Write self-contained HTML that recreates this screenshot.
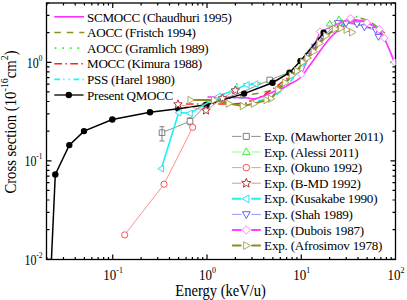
<!DOCTYPE html><html><head><meta charset="utf-8"><style>
html,body{margin:0;padding:0;background:#fff;width:407px;height:300px;overflow:hidden}
svg{display:block}
text{font-family:'Liberation Serif',serif;fill:#000;stroke:#000;stroke-width:0px}
</style></head><body>
<svg width="407" height="300" viewBox="0 0 407 300">
<defs><clipPath id="cp"><rect x="46.5" y="3.0" width="349.0" height="256.5"/></clipPath></defs>

<path d="M46.87 259.5v-2.5M46.87 3.0v2.5M63.47 259.5v-2.5M63.47 3.0v2.5M75.24 259.5v-2.5M75.24 3.0v2.5M84.38 259.5v-2.5M84.38 3.0v2.5M91.84 259.5v-2.5M91.84 3.0v2.5M98.15 259.5v-2.5M98.15 3.0v2.5M103.62 259.5v-2.5M103.62 3.0v2.5M108.44 259.5v-2.5M108.44 3.0v2.5M112.75 259.5v-5M112.75 3.0v5M141.12 259.5v-2.5M141.12 3.0v2.5M157.72 259.5v-2.5M157.72 3.0v2.5M169.49 259.5v-2.5M169.49 3.0v2.5M178.63 259.5v-2.5M178.63 3.0v2.5M186.09 259.5v-2.5M186.09 3.0v2.5M192.40 259.5v-2.5M192.40 3.0v2.5M197.87 259.5v-2.5M197.87 3.0v2.5M202.69 259.5v-2.5M202.69 3.0v2.5M207.00 259.5v-5M207.00 3.0v5M235.37 259.5v-2.5M235.37 3.0v2.5M251.97 259.5v-2.5M251.97 3.0v2.5M263.74 259.5v-2.5M263.74 3.0v2.5M272.88 259.5v-2.5M272.88 3.0v2.5M280.34 259.5v-2.5M280.34 3.0v2.5M286.65 259.5v-2.5M286.65 3.0v2.5M292.12 259.5v-2.5M292.12 3.0v2.5M296.94 259.5v-2.5M296.94 3.0v2.5M301.25 259.5v-5M301.25 3.0v5M329.62 259.5v-2.5M329.62 3.0v2.5M346.22 259.5v-2.5M346.22 3.0v2.5M357.99 259.5v-2.5M357.99 3.0v2.5M367.13 259.5v-2.5M367.13 3.0v2.5M374.59 259.5v-2.5M374.59 3.0v2.5M380.90 259.5v-2.5M380.90 3.0v2.5M386.37 259.5v-2.5M386.37 3.0v2.5M391.19 259.5v-2.5M391.19 3.0v2.5M46.5 259.30h5M395.5 259.30h-5M46.5 229.65h3M395.5 229.65h-3M46.5 212.30h3M395.5 212.30h-3M46.5 200.00h3M395.5 200.00h-3M46.5 190.45h3M395.5 190.45h-3M46.5 182.65h3M395.5 182.65h-3M46.5 176.06h3M395.5 176.06h-3M46.5 170.35h3M395.5 170.35h-3M46.5 165.31h3M395.5 165.31h-3M46.5 160.80h5M395.5 160.80h-5M46.5 131.15h3M395.5 131.15h-3M46.5 113.80h3M395.5 113.80h-3M46.5 101.50h3M395.5 101.50h-3M46.5 91.95h3M395.5 91.95h-3M46.5 84.15h3M395.5 84.15h-3M46.5 77.56h3M395.5 77.56h-3M46.5 71.85h3M395.5 71.85h-3M46.5 66.81h3M395.5 66.81h-3M46.5 62.30h5M395.5 62.30h-5M46.5 32.65h3M395.5 32.65h-3M46.5 15.30h3M395.5 15.30h-3M46.5 3.00h3M395.5 3.00h-3" stroke="#000" stroke-width="1.2" fill="none"/>
<rect x="46.5" y="3.0" width="349.0" height="256.5" stroke="#000" stroke-width="1.3" fill="none"/>
<text transform="translate(113.15 279.5) scale(1.0 1.1)" font-size="13" text-anchor="middle">10<tspan font-size="8" dy="-6">-1</tspan></text>
<text transform="translate(207.4 279.5) scale(1.0 1.1)" font-size="13" text-anchor="middle">10<tspan font-size="8" dy="-6">0</tspan></text>
<text transform="translate(301.65 279.5) scale(1.0 1.1)" font-size="13" text-anchor="middle">10<tspan font-size="8" dy="-6">1</tspan></text>
<text transform="translate(395.9 279.5) scale(1.0 1.1)" font-size="13" text-anchor="middle">10<tspan font-size="8" dy="-6">2</tspan></text>
<text transform="translate(42.5 67.8) scale(0.92 1.1)" font-size="13" text-anchor="end">10<tspan font-size="8" dy="-6.5">0</tspan></text>
<text transform="translate(42.5 166.3) scale(0.92 1.1)" font-size="13" text-anchor="end">10<tspan font-size="8" dy="-6.5">-1</tspan></text>
<text transform="translate(42.5 264.8) scale(0.92 1.1)" font-size="13" text-anchor="end">10<tspan font-size="8" dy="-6.5">-2</tspan></text>
<text transform="translate(175.3 295.7) scale(0.99 1.1)" font-size="14.7">Energy (keV/u)</text>
<text transform="translate(16.3 193.6) rotate(-90) scale(1 1.12)" font-size="14.7">Cross section (10<tspan font-size="10" dy="-7.5">-16</tspan><tspan dy="7.5">cm</tspan><tspan font-size="10" dy="-7.5">2</tspan><tspan dy="7.5">)</tspan></text>
<path d="M54.3 16.80H84" stroke="#ff30ff" stroke-width="1.6"/>
<text x="87.1" y="21.50" font-size="13.1" letter-spacing="-0.3">SCMOCC (Chaudhuri 1995)</text>
<path d="M54.3 32.44H84.4" stroke="#8c8c20" stroke-width="1.5" stroke-dasharray="6.5 6"/>
<text x="87.1" y="37.14" font-size="13.1" letter-spacing="-0.3">AOCC (Fristch 1994)</text>
<path d="M54.7 48.08H84" stroke="#30f030" stroke-width="1.7" stroke-dasharray="1.7 5.9"/>
<text x="87.1" y="52.78" font-size="13.1" letter-spacing="-0.3">AOCC (Gramlich 1989)</text>
<path d="M54.3 63.72H84" stroke="#ff2020" stroke-width="1.5" stroke-dasharray="7.7 3.3 1.5 3.5"/>
<text x="87.1" y="68.42" font-size="13.1" letter-spacing="-0.3">MOCC (Kimura 1988)</text>
<path d="M54.3 79.36H84" stroke="#00ffff" stroke-width="1.6" stroke-dasharray="5.7 3.3 1.2 4 1.2 3.8"/>
<text x="87.1" y="84.06" font-size="13.1" letter-spacing="-0.3">PSS (Harel 1980)</text>
<path d="M54.3 95.00H83.5" stroke="#202020" stroke-width="1.5"/><circle cx="68.8" cy="95.00" r="3.2" fill="#000"/>
<text x="87.1" y="99.70" font-size="13.1" letter-spacing="-0.3">Present QMOCC</text>
<g clip-path="url(#cp)" fill="none" stroke-linejoin="miter">
<path d="M215.00 100.00 C219.17 99.33 231.67 97.33 240.00 96.00 C248.33 94.67 258.33 93.67 265.00 92.00 C271.67 90.33 275.00 89.00 280.00 86.00 C285.00 83.00 290.00 79.00 295.00 74.00 C300.00 69.00 305.00 62.00 310.00 56.00 C315.00 50.00 320.00 43.00 325.00 38.00 C330.00 33.00 335.00 29.33 340.00 26.00 C345.00 22.67 350.00 18.67 355.00 18.00 C360.00 17.33 365.00 19.50 370.00 22.00 C375.00 24.50 382.50 31.17 385.00 33.00" stroke="#8c8c20" stroke-width="1.5" stroke-dasharray="6.5 6"/>
<path d="M236.00 84.20 C238.53 84.10 246.23 83.88 251.20 83.60 C256.17 83.32 261.90 83.03 265.80 82.50 C269.70 81.97 271.40 81.65 274.60 80.40 C277.80 79.15 280.77 78.07 285.00 75.00 C289.23 71.93 295.00 67.17 300.00 62.00 C305.00 56.83 310.00 49.67 315.00 44.00 C320.00 38.33 325.00 32.17 330.00 28.00 C335.00 23.83 340.33 20.83 345.00 19.00 C349.67 17.17 353.33 16.00 358.00 17.00 C362.67 18.00 368.50 22.33 373.00 25.00 C377.50 27.67 383.00 31.67 385.00 33.00" stroke="#30f030" stroke-width="1.7" stroke-dasharray="1.7 5.9"/>
<path d="M186.00 104.00 C195.00 103.93 229.33 104.10 240.00 103.60 C250.67 103.10 246.33 102.27 250.00 101.00 C253.67 99.73 258.67 97.67 262.00 96.00 C265.33 94.33 266.17 93.67 270.00 91.00 C273.83 88.33 280.83 83.17 285.00 80.00 C289.17 76.83 291.67 75.33 295.00 72.00 C298.33 68.67 300.83 65.00 305.00 60.00 C309.17 55.00 315.00 47.17 320.00 42.00 C325.00 36.83 330.83 32.17 335.00 29.00 C339.17 25.83 340.83 23.67 345.00 23.00 C349.17 22.33 355.00 23.83 360.00 25.00 C365.00 26.17 370.83 28.00 375.00 30.00 C379.17 32.00 383.33 35.83 385.00 37.00" stroke="#ff2020" stroke-width="1.5" stroke-dasharray="7.7 3.3 1.5 3.5"/>
<path d="M220.00 99.00 C224.17 98.83 238.00 97.83 245.00 98.00 C252.00 98.17 256.17 101.00 262.00 100.00 C267.83 99.00 273.67 97.00 280.00 92.00 C286.33 87.00 294.17 77.00 300.00 70.00 C305.83 63.00 310.00 56.17 315.00 50.00 C320.00 43.83 325.00 37.33 330.00 33.00 C335.00 28.67 340.00 26.00 345.00 24.00 C350.00 22.00 355.00 20.67 360.00 21.00 C365.00 21.33 370.83 23.83 375.00 26.00 C379.17 28.17 383.33 32.67 385.00 34.00" stroke="#00ffff" stroke-width="1.5" stroke-dasharray="5.7 3.3 1.2 4 1.2 3.8"/>
<path d="M207.50 97.00 C210.42 97.03 218.75 97.07 225.00 97.20 C231.25 97.33 240.00 97.53 245.00 97.80 C250.00 98.07 251.67 99.18 255.00 98.80 C258.33 98.42 261.83 96.72 265.00 95.50 C268.17 94.28 271.00 92.75 274.00 91.50 C277.00 90.25 280.33 89.25 283.00 88.00 C285.67 86.75 287.17 85.67 290.00 84.00 C292.83 82.33 296.67 81.17 300.00 78.00 C303.33 74.83 306.67 69.50 310.00 65.00 C313.33 60.50 316.67 55.50 320.00 51.00 C323.33 46.50 326.67 41.67 330.00 38.00 C333.33 34.33 336.67 31.67 340.00 29.00 C343.33 26.33 346.67 23.42 350.00 22.00 C353.33 20.58 356.67 20.17 360.00 20.50 C363.33 20.83 366.83 22.42 370.00 24.00 C373.17 25.58 376.62 27.67 379.00 30.00 C381.38 32.33 381.72 32.67 384.30 38.00 C386.88 43.33 392.55 57.50 394.50 62.00 C396.45 66.50 395.75 64.50 396.00 65.00" stroke="#ff30ff" stroke-width="1.6"/>
<path d="M162.00 132.70 L190.00 121.30 L206.00 105.50 L244.00 91.30 L269.70 80.00 L290.00 72.00" stroke="#909090" stroke-width="1"/>
<path d="M159.20 129.90h5.60v5.60h-5.60ZM187.20 118.50h5.60v5.60h-5.60ZM203.20 102.70h5.60v5.60h-5.60ZM266.90 77.20h5.60v5.60h-5.60ZM162 126.7V141M159.5 126.7h5M159.5 141h5M187.5 117.8h5M187.5 124.8h5" stroke="#808080" fill="#fff" stroke-width="1"/>
<path d="M329.70 23.70 L339.00 19.60" stroke="#90ff90" stroke-width="1"/>
<path d="M329.70 20.20 L333.02 25.97 L326.38 25.97ZM339.00 16.10 L342.32 21.88 L335.68 21.88Z" stroke="#40e840" fill="#fff" stroke-width="1"/>
<path d="M124.70 234.90 L164.00 184.20 L192.70 127.30" stroke="#ff9090" stroke-width="1"/>
<path d="M121.60 234.90a3.1 3.1 0 1 0 6.2 0a3.1 3.1 0 1 0 -6.2 0ZM160.90 184.20a3.1 3.1 0 1 0 6.2 0a3.1 3.1 0 1 0 -6.2 0ZM189.60 127.30a3.1 3.1 0 1 0 6.2 0a3.1 3.1 0 1 0 -6.2 0Z" stroke="#ff5050" fill="#fff" stroke-width="1"/>
<path d="M307.50 55.00 L314.00 46.00 L319.50 39.50 L337.80 23.00 L346.00 23.40 L357.00 24.20 L364.50 27.10 L375.60 30.00 L378.50 36.70" stroke="#9898ff" stroke-width="1"/>
<path d="M307.50 57.60 L309.97 53.31 L305.03 53.31ZM314.00 48.60 L316.47 44.31 L311.53 44.31ZM319.50 42.10 L321.97 37.81 L317.03 37.81ZM337.80 26.60 L341.22 20.66 L334.38 20.66ZM346.00 27.00 L349.42 21.06 L342.58 21.06ZM357.00 27.80 L360.42 21.86 L353.58 21.86ZM364.50 30.70 L367.92 24.76 L361.08 24.76ZM375.60 33.60 L379.02 27.66 L372.18 27.66ZM378.50 40.30 L381.92 34.36 L375.08 34.36Z" stroke="#6060f0" fill="#fff" stroke-width="1"/>
<path d="M301.40 74.30 L320.10 31.60 L350.50 18.20 L367.00 22.70 L379.30 29.30 L384.30 38.00 L394.50 62.00" stroke="#ff40ff" stroke-width="1.2"/>
<path d="M301.40 70.50 L305.20 74.30 L301.40 78.10 L297.60 74.30ZM320.10 27.80 L323.90 31.60 L320.10 35.40 L316.30 31.60ZM350.50 14.40 L354.30 18.20 L350.50 22.00 L346.70 18.20ZM367.00 18.90 L370.80 22.70 L367.00 26.50 L363.20 22.70ZM379.30 25.50 L383.10 29.30 L379.30 33.10 L375.50 29.30ZM384.30 34.20 L388.10 38.00 L384.30 41.80 L380.50 38.00ZM394.50 58.20 L398.30 62.00 L394.50 65.80 L390.70 62.00Z" stroke="#ff80ff" fill="#fff" stroke-width="1"/>
<path d="M50.50 280.00 L55.30 174.40 L69.30 145.10 L84.00 131.10 L112.30 119.50 L150.00 112.30 L178.30 108.70 L206.50 104.80 L244.10 93.60 L272.50 82.70 L289.50 72.70 L300.50 60.90 L323.60 32.70" stroke="#000" stroke-width="1.5"/>
<g fill="#000"><circle cx="55.3" cy="174.4" r="3.2"/><circle cx="69.3" cy="145.1" r="3.2"/><circle cx="84" cy="131.1" r="3.2"/><circle cx="112.3" cy="119.5" r="3.2"/><circle cx="150" cy="112.3" r="3.2"/><circle cx="178.3" cy="108.7" r="3.2"/><circle cx="206.5" cy="104.8" r="3.2"/><circle cx="244.1" cy="93.6" r="3.2"/><circle cx="272.5" cy="82.7" r="3.2"/><circle cx="289.5" cy="72.7" r="3.2"/><circle cx="300.5" cy="60.9" r="3.2"/><circle cx="323.6" cy="32.7" r="3.2"/></g>
<path d="M161.30 168.70 L178.70 112.70 L190.00 113.30 L218.40 96.40 L235.00 89.50 L246.80 84.80 L255.60 84.00" stroke="#20f0f0" stroke-width="1.6"/>
<path d="M157.80 168.70 L163.58 165.38 L163.58 172.02ZM175.20 112.70 L180.97 109.38 L180.97 116.03ZM186.50 113.30 L192.28 109.97 L192.28 116.62ZM214.90 96.40 L220.68 93.08 L220.68 99.73ZM231.50 89.50 L237.28 86.17 L237.28 92.83ZM243.30 84.80 L249.08 81.47 L249.08 88.12ZM252.10 84.00 L257.88 80.67 L257.88 87.33Z" stroke="#30e0f0" fill="#fff" stroke-width="1"/>
<path d="M178.00 104.30 L206.00 110.50 L222.50 98.30 L235.30 90.40" stroke="#d09a9a" stroke-width="1"/>
<path d="M178.00 99.80 L179.18 102.68 L182.28 102.91 L179.90 104.92 L180.65 107.94 L178.00 106.30 L175.35 107.94 L176.10 104.92 L173.72 102.91 L176.82 102.68ZM206.00 106.00 L207.18 108.88 L210.28 109.11 L207.90 111.12 L208.65 114.14 L206.00 112.50 L203.35 114.14 L204.10 111.12 L201.72 109.11 L204.82 108.88ZM222.50 93.80 L223.68 96.68 L226.78 96.91 L224.40 98.92 L225.15 101.94 L222.50 100.30 L219.85 101.94 L220.60 98.92 L218.22 96.91 L221.32 96.68ZM235.30 85.90 L236.48 88.78 L239.58 89.01 L237.20 91.02 L237.95 94.04 L235.30 92.40 L232.65 94.04 L233.40 91.02 L231.02 89.01 L234.12 88.78Z" stroke="#b03838" fill="#fff" stroke-width="1"/>
<path d="M190.50 100.00 L214.00 100.00 L228.70 103.60 L242.80 106.10 L253.75 103.75 L266.50 100.00 L271.00 98.70 L278.30 90.00 L285.30 82.70 L291.70 75.50 L297.00 71.00 L302.90 62.10 L307.50 58.00 L313.70 51.60 L319.50 43.40 L326.00 35.80 L335.20 29.00 L341.00 28.30 L346.60 29.80 L352.10 32.40" stroke="#8c8c20" stroke-width="2"/>
<path d="M194.40 100.00 L187.97 96.30 L187.97 103.70ZM217.90 100.00 L211.47 96.30 L211.47 103.70ZM232.60 103.60 L226.16 99.89 L226.16 107.30ZM246.70 106.10 L240.27 102.39 L240.27 109.80ZM257.65 103.75 L251.22 100.05 L251.22 107.45ZM270.40 100.00 L263.96 96.30 L263.96 103.70ZM274.90 98.70 L268.46 95.00 L268.46 102.41ZM282.20 90.00 L275.76 86.30 L275.76 93.70ZM289.20 82.70 L282.76 79.00 L282.76 86.41ZM295.60 75.50 L289.16 71.80 L289.16 79.20ZM300.90 71.00 L294.46 67.30 L294.46 74.70ZM306.80 62.10 L300.36 58.40 L300.36 65.81ZM311.40 58.00 L304.96 54.30 L304.96 61.70ZM317.60 51.60 L311.16 47.90 L311.16 55.30ZM323.40 43.40 L316.96 39.70 L316.96 47.10ZM329.90 35.80 L323.46 32.09 L323.46 39.50ZM339.10 29.00 L332.66 25.30 L332.66 32.70ZM344.90 28.30 L338.46 24.60 L338.46 32.01ZM350.50 29.80 L344.06 26.10 L344.06 33.51ZM356.00 32.40 L349.56 28.70 L349.56 36.10Z" stroke="#a8a860" fill="#fff" stroke-width="1"/>
</g>
<path d="M232.1 136.40H241.5M251.3 136.40H260.8" stroke="#909090" stroke-width="1"/>
<path d="M243.30 133.40h6.00v6.00h-6.00Z" stroke="#808080" fill="#fff" stroke-width="1"/>
<text x="264.1" y="141.00" font-size="13.1" letter-spacing="-0.21">Exp. (Mawhorter 2011)</text>
<path d="M232.1 152.00H241.5M251.3 152.00H260.8" stroke="#90ff90" stroke-width="1"/>
<path d="M246.30 147.90 L250.20 154.66 L242.41 154.66Z" stroke="#40e840" fill="#fff" stroke-width="1"/>
<text x="264.1" y="156.60" font-size="13.1" letter-spacing="-0.21">Exp. (Alessi 2011)</text>
<path d="M232.1 167.60H241.5M251.3 167.60H260.8" stroke="#ff9090" stroke-width="1"/>
<path d="M243.00 167.60a3.3 3.3 0 1 0 6.6 0a3.3 3.3 0 1 0 -6.6 0Z" stroke="#ff5050" fill="#fff" stroke-width="1"/>
<text x="264.1" y="172.20" font-size="13.1" letter-spacing="-0.21">Exp. (Okuno 1992)</text>
<path d="M232.1 183.20H241.5M251.3 183.20H260.8" stroke="#d09a9a" stroke-width="1"/>
<path d="M246.30 178.30 L247.59 181.42 L250.96 181.69 L248.39 183.88 L249.18 187.16 L246.30 185.40 L243.42 187.16 L244.21 183.88 L241.64 181.69 L245.01 181.42Z" stroke="#b03838" fill="#fff" stroke-width="1"/>
<text x="264.1" y="187.80" font-size="13.1" letter-spacing="-0.21">Exp. (B-MD 1992)</text>
<path d="M232.1 198.80H241.5M251.3 198.80H260.8" stroke="#20f0f0" stroke-width="2"/>
<path d="M242.20 198.80 L248.97 194.91 L248.97 202.70Z" stroke="#30e0f0" fill="#fff" stroke-width="1"/>
<text x="264.1" y="203.40" font-size="13.1" letter-spacing="-0.21">Exp. (Kusakabe 1990)</text>
<path d="M232.1 214.40H241.5M251.3 214.40H260.8" stroke="#9898ff" stroke-width="1"/>
<path d="M246.30 218.50 L250.20 211.74 L242.41 211.74Z" stroke="#6060f0" fill="#fff" stroke-width="1"/>
<text x="264.1" y="219.00" font-size="13.1" letter-spacing="-0.21">Exp. (Shah 1989)</text>
<path d="M232.1 230.00H241.5M251.3 230.00H260.8" stroke="#ff40ff" stroke-width="2"/>
<path d="M246.30 225.90 L250.40 230.00 L246.30 234.10 L242.20 230.00Z" stroke="#ff80ff" fill="#fff" stroke-width="1"/>
<text x="264.1" y="234.60" font-size="13.1" letter-spacing="-0.21">Exp. (Dubois 1987)</text>
<path d="M232.1 245.60H241.5M251.3 245.60H260.8" stroke="#8c8c20" stroke-width="2"/>
<path d="M250.40 245.60 L243.64 241.71 L243.64 249.50Z" stroke="#a8a860" fill="#fff" stroke-width="1"/>
<text x="264.1" y="250.20" font-size="13.1" letter-spacing="-0.21">Exp. (Afrosimov 1978)</text>
</svg></body></html>
